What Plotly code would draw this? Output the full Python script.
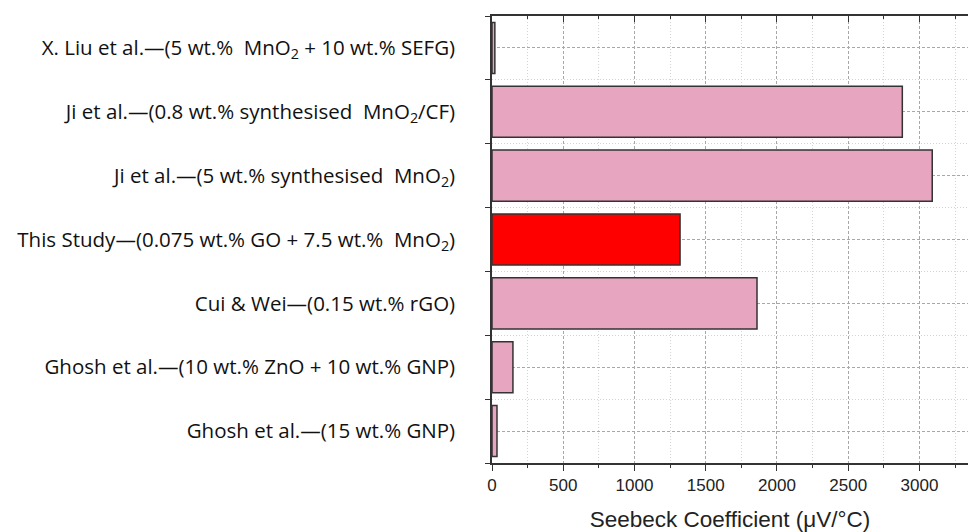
import plotly.graph_objects as go

labels = [
    "Ghosh et al.—(15 wt.% GNP)",
    "Ghosh et al.—(10 wt.% ZnO + 10 wt.% GNP)",
    "Cui &amp; Wei—(0.15 wt.% rGO)",
    "This Study—(0.075 wt.% GO + 7.5 wt.%  MnO<sub>2</sub>)",
    "Ji et al.—(5 wt.% synthesised  MnO<sub>2</sub>)",
    "Ji et al.—(0.8 wt.% synthesised  MnO<sub>2</sub>/CF)",
    "X. Liu et al.—(5 wt.%  MnO<sub>2</sub> + 10 wt.% SEFG)",
]
seebeck = [35, 147, 1860, 1320, 3090, 2880, 20]
highlight = [False, False, False, True, False, False, False]

positions = list(range(len(labels)))
colors = ["#FF0000" if h else "#E8A5C0" for h in highlight]

fig = go.Figure()
fig.add_trace(go.Bar(
    x=seebeck, y=positions, orientation="h", width=0.8,
    marker=dict(color=colors, line=dict(color="#333333", width=1.5)),
    showlegend=False,
))

axis_line = "#333333"
XMAX = 3341
fig.update_layout(
    width=968, height=532,
    margin=dict(l=492, r=0, t=16, b=69),
    plot_bgcolor="white", paper_bgcolor="white",
    xaxis=dict(
        range=[0, XMAX], dtick=500, tick0=0,
        showline=True, linecolor=axis_line, linewidth=1.5,
        ticks="outside", ticklen=6, tickwidth=1.2, tickcolor=axis_line,
        showgrid=True, gridcolor="#a8a8a8", griddash="3px,2px", gridwidth=1,
        zeroline=False,
        tickfont=dict(family="Liberation Sans, Arial", size=17, color="#222222"),
        title=dict(text="Seebeck Coefficient (μV/°C)",
                   font=dict(family="Liberation Sans, Arial", size=22.5, color="#222222"),
                   standoff=18),
        minor=dict(dtick=250, tick0=0, ticks="outside", ticklen=3, tickcolor=axis_line,
                   showgrid=True, gridcolor="#d4d4d4", griddash="1px,2px", gridwidth=1),
    ),
    xaxis2=dict(
        overlaying="x", side="top", matches="x", range=[0, XMAX], dtick=500, tick0=0,
        showline=True, linecolor=axis_line, linewidth=1.5,
        ticks="inside", ticklen=6, tickwidth=1.2, tickcolor=axis_line,
        showticklabels=False, showgrid=False, zeroline=False,
        minor=dict(dtick=250, tick0=0, ticks="inside", ticklen=3, tickcolor=axis_line,
                   showgrid=False),
    ),
    yaxis=dict(
        range=[-0.5, len(labels) - 0.5],
        tickmode="array", tickvals=positions, ticktext=labels,
        ticks="", ticklabelstandoff=31,
        showline=True, linecolor=axis_line, linewidth=1.5,
        showgrid=True, gridcolor="#a8a8a8", griddash="3px,2px", gridwidth=1,
        zeroline=False,
        tickfont=dict(family="Open Sans", size=20.5, color="#111111"),
        minor=dict(tickmode="array",
                   tickvals=[p - 0.5 for p in positions] + [positions[-1] + 0.5],
                   ticks="outside", ticklen=5, tickcolor=axis_line,
                   showgrid=True, gridcolor="#d4d4d4", griddash="1px,2px", gridwidth=1),
    ),
)
# invisible trace to activate the top axis
fig.add_trace(go.Scatter(x=[0], y=[0], xaxis="x2", mode="markers",
                         marker=dict(opacity=0), showlegend=False, hoverinfo="skip"))

fig.write_html("out.html", config={"displayModeBar": False},
               post_script="document.body.style.margin='0';document.body.style.overflow='hidden';")
